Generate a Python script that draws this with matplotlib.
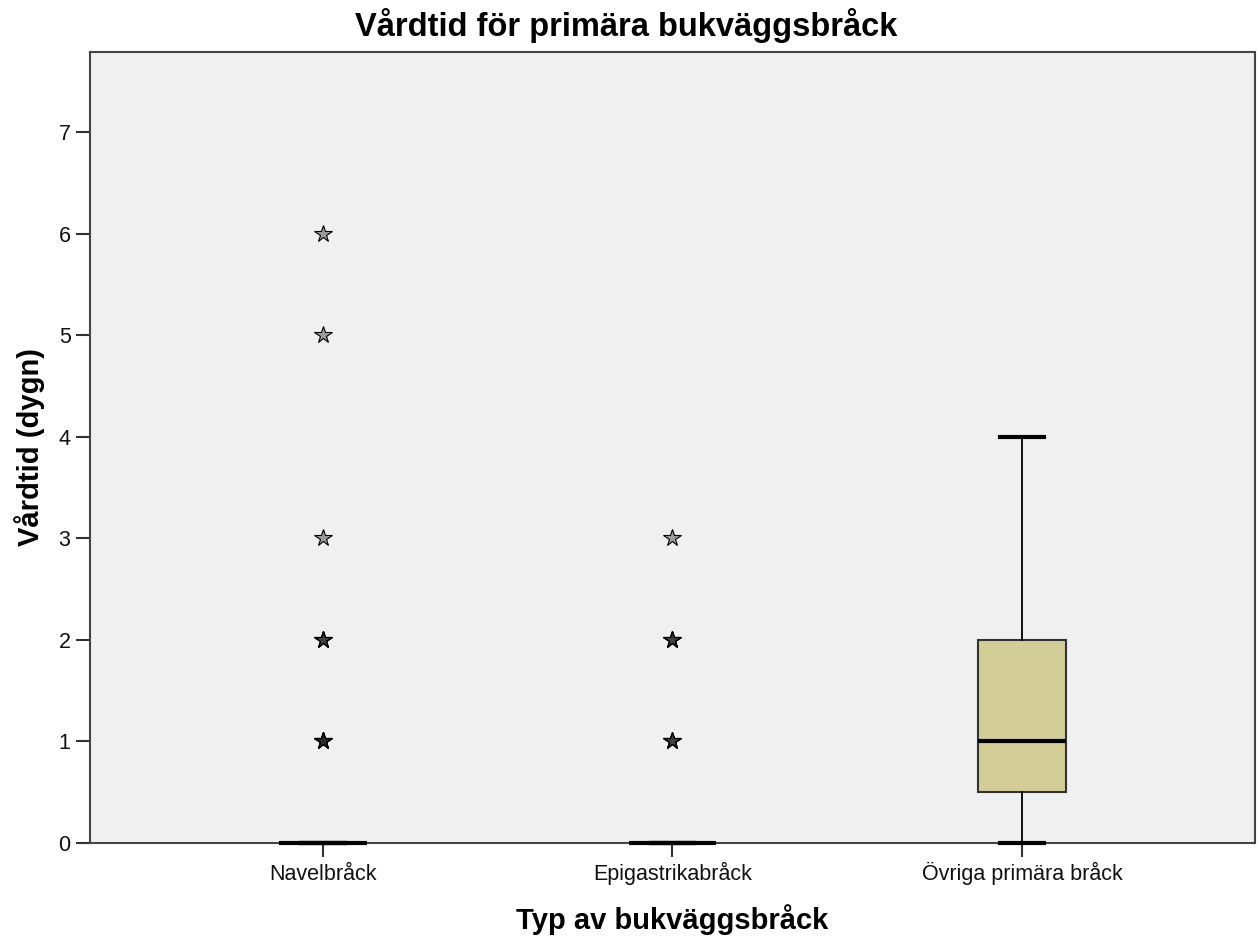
import matplotlib.pyplot as plt

# Vårdtid per bråcktyp (dygn)
kategorier = ['Navelbråck', 'Epigastrikabråck', 'Övriga primära bråck']
median = [0, 0, 1]
q1 = [0, 0, 0.5]
q3 = [0, 0, 2]
whisk_lo = [0, 0, 0]
whisk_hi = [0, 0, 4]
# extremvärden (visas som stjärnor), upprepade värden ritas ovanpå varandra
extremvarden = [
    [1, 1, 1, 1, 2, 2, 2, 3, 5, 6],
    [1, 1, 1, 2, 2, 2, 3],
    [],
]

plt.rcParams['font.family'] = ['Liberation Sans', 'DejaVu Sans']

stats = []
for i, namn in enumerate(kategorier):
    stats.append({'label': namn, 'med': median[i], 'q1': q1[i], 'q3': q3[i],
                  'whislo': whisk_lo[i], 'whishi': whisk_hi[i],
                  'fliers': extremvarden[i]})

fig = plt.figure(figsize=(12.59, 9.42), dpi=100)
ax = fig.add_axes([0.0715, 0.1051, 0.9253, 0.8397])
ax.set_facecolor('#F0F0F0')

ax.bxp(stats, positions=[1, 2, 3], widths=0.25, patch_artist=True,
       boxprops=dict(facecolor='#D3CE98', edgecolor='#333333', linewidth=1.5),
       medianprops=dict(color='black', linewidth=3, clip_on=False, zorder=4),
       whiskerprops=dict(color='black', linewidth=1.3),
       capprops=dict(color='black', linewidth=3, clip_on=False, zorder=4),
       capwidths=0.125,
       flierprops=dict(marker='*', markersize=13, markerfacecolor=(0, 0, 0, 0.35),
                       markeredgecolor='black', markeredgewidth=0.8,
                       linestyle='none'))

ax.set_xlim(0.334, 3.666)
ax.set_ylim(0, 7.79)
ax.set_yticks(range(0, 8))
ax.set_xticks([1, 2, 3])
ax.set_xticklabels(kategorier)

for s in ax.spines.values():
    s.set_color('#444444')
    s.set_linewidth(1.5)

ax.tick_params(axis='both', direction='out', length=10, width=1.5, color='#333333',
               labelsize=15.5, labelcolor='#111111', pad=4)
# tick-etiketter på x-axeln på gemensam baslinje
ax.tick_params(axis='x', pad=16.5)
for t in ax.get_xticklabels():
    t.set_verticalalignment('baseline')

fig.text(0.497, 0.973, 'Vårdtid för primära bukväggsbråck', ha='center', va='center',
         fontsize=23.5, fontweight='bold')
ax.set_xlabel('Typ av bukväggsbråck', fontsize=21, fontweight='bold', labelpad=14)
ax.set_ylabel('Vårdtid (dygn)', fontsize=21, fontweight='bold', labelpad=10)

fig.savefig('out.png', dpi=100, facecolor='white')
